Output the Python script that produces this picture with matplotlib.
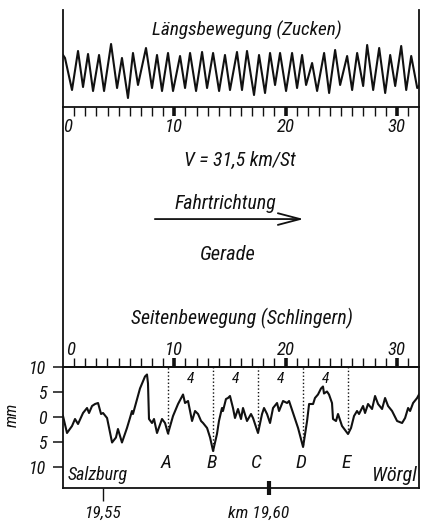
import matplotlib
matplotlib.use("Agg")
import matplotlib.pyplot as plt
from matplotlib.ticker import FixedLocator, NullFormatter
import matplotlib.transforms as mtransforms
from matplotlib import font_manager

# ---------------- data ----------------
# Längsbewegung (Zucken): position along the ruler (0..32) and trace height
long_x = [0.00, 0.18, 0.81, 1.35, 1.80, 2.25, 2.70, 3.24, 3.69, 4.32, 4.86, 5.30,
          5.84, 6.29, 6.74, 7.46, 8.00, 8.45, 8.90, 9.44, 9.89, 10.52, 10.97,
          11.42, 11.96, 12.50, 12.95, 13.49, 14.03, 14.56, 15.01, 15.64, 16.09,
          16.54, 17.17, 17.62, 18.16, 18.61, 19.06, 19.51, 20.05, 20.59, 21.04,
          21.49, 21.85, 22.39, 22.84, 23.47, 23.92, 24.46, 24.91, 25.54, 25.99,
          26.44, 26.98, 27.34, 27.88, 28.42, 28.96, 29.41, 29.86, 30.40, 30.85,
          31.30, 31.84, 32.00]
long_v = [52, 49, 17, 56, 20, 53, 16, 52, 16, 63, 19, 49,
          9, 54, 22, 59, 19, 52, 16, 54, 16, 51, 19,
          54, 16, 55, 19, 54, 16, 52, 17, 55, 17,
          56, 12, 52, 14, 54, 22, 54, 16, 54, 19,
          52, 22, 44, 16, 54, 14, 57, 22, 51, 17,
          54, 21, 62, 17, 59, 14, 52, 21, 61, 17,
          51, 19, 21]

# Seitenbewegung (Schlingern) in mm
lat_x = [0.00, 0.36, 0.81, 1.08, 1.35, 1.80, 2.16, 2.34, 2.61, 2.88, 3.15, 3.42,
         3.60, 3.96, 4.41, 4.76, 4.94, 5.30, 5.75, 6.02, 6.20, 6.29, 6.92, 7.37,
         7.55, 7.64, 7.73, 8.00, 8.18, 8.45, 8.90, 9.17, 9.44, 9.89, 10.34,
         10.79, 10.97, 11.24, 11.60, 11.87, 12.14, 12.41, 12.59, 12.95, 13.22,
         13.49, 13.84, 14.02, 14.29, 14.38, 14.65, 14.83, 15.01, 15.28, 15.46,
         15.73, 16.00, 16.18, 16.54, 16.90, 17.08, 17.53, 17.89, 18.07, 18.34,
         18.61, 18.88, 19.24, 19.42, 19.78, 20.14, 20.32, 20.68, 21.13, 21.58,
         21.94, 22.12, 22.48, 22.65, 22.92, 23.19, 23.37, 23.46, 23.73, 23.91,
         24.18, 24.27, 24.54, 24.72, 25.08, 25.62, 25.89, 26.16, 26.43, 26.61,
         26.97, 27.15, 27.42, 27.78, 28.05, 28.32, 28.68, 28.95, 29.22, 29.58,
         30.03, 30.48, 30.75, 31.02, 31.20, 31.47, 31.83, 32.00]
lat_v = [0.2, -3.2, -1.8, -0.4, -1.4, 0.8, 1.8, 0.8, 2.2, 2.6, 2.8, 0.6,
         0.8, -0.2, -5.1, -4.1, -2.4, -5.1, -2.2, -0.2, 1.2, 0.6, 5.7, 8.1,
         8.5, 6.7, -0.4, -1.2, -0.4, -3.2, -0.4, -1.2, -3.3, 0.2, 2.6,
         4.5, 2.8, 3.2, -0.8, 1.2, 0.6, -0.8, -1.2, -2.2, -4.1,
         -6.8, -3.4, -0.8, 1.8, 1.2, 3.6, 3.8, 4.2, 1.8, -0.2,
         1.6, -0.4, 1.8, -0.8, 0.6, -0.2, -3.2, 0.6, 1.8, 0.6,
         -1.2, 1.8, 2.8, 1.2, 3.2, 2.8, 3.2, 0.8, -2.2, -6.0,
         -0.8, 2.6, 2.6, 3.8, 4.5, 5.7, 6.1, 4.7, 5.1, 4.5,
         2.8, -0.4, -0.8, 0.6, -1.8, -3.4, -2.2, 0.2, 1.2, 0.6,
         2.2, 0.8, 2.6, 1.6, 4.2, 2.6, 1.6, 3.8, 2.2, 1.2,
         -0.8, -1.2, -0.2, 1.8, 1.2, 2.8, 3.8, 4.5]

ruler_major = [10, 20, 30]
ruler_minor = [1, 2, 3, 4, 5, 6, 7, 8, 9, 11, 12, 13, 14, 15, 16, 17, 18, 19,
               21, 22, 23, 24, 25, 26, 27, 28, 29, 31]
ruler_labels = [0, 10, 20, 30]

marker_x = [9.44, 13.49, 17.53, 21.58, 25.62]
marker_depth = [-3.3, -6.8, -2.4, -5.6, -3.2]
marker_letters = ["A", "B", "C", "D", "E"]
spacing_labels = ["4", "4", "4", "4"]

ytick_vals = [10, 5, 0, -5, -10]
ytick_labels = ["10", "5", "0", "5", "10"]

km_pos = [3.6, 18.5]
km_labels = ["19,55", "km 19,60"]

# ---------------- style ----------------
# prefer a narrow face if one is installed
_names = {f.name for f in font_manager.fontManager.ttflist}
_narrow = [n for n in ("Liberation Sans Narrow", "DejaVu Sans Condensed", "Roboto Condensed")
           if n in _names]
FONT = _narrow + ["Roboto", "DejaVu Sans"]
plt.rcParams["font.family"] = FONT
plt.rcParams["font.style"] = "italic"
plt.rcParams["font.stretch"] = "condensed"
INK = "#111111"
LW = 1.3
TXT = 14.3

W, H = 428, 524


def rect(x0, y0, x1, y1):
    return [x0 / W, 1 - y1 / H, (x1 - x0) / W, (y1 - y0) / H]


fig = plt.figure(figsize=(W / 100, H / 100), dpi=100)
fig.patch.set_facecolor("white")

ax_top = fig.add_axes(rect(63, 10, 419, 107))
ax_mid = fig.add_axes(rect(63, 107, 419, 367))
ax_bot = fig.add_axes(rect(63, 367, 419, 488))

for ax in (ax_top, ax_mid, ax_bot):
    ax.set_xlim(0, 32)
    ax.set_facecolor("none")
    for sp in ax.spines.values():
        sp.set_linewidth(LW)
        sp.set_color(INK)

# ---------- upper panel ----------
ax_top.spines["top"].set_visible(False)
ax_top.set_ylim(0, 97)
ax_top.set_yticks([])
ax_top.plot(long_x, long_v, color=INK, lw=1.5, solid_joinstyle="round")
ax_top.xaxis.set_major_locator(FixedLocator(ruler_major))
ax_top.xaxis.set_minor_locator(FixedLocator(ruler_minor))
ax_top.xaxis.set_major_formatter(NullFormatter())
ax_top.xaxis.set_minor_formatter(NullFormatter())
ax_top.tick_params(axis="x", which="major", direction="out", length=6.5, width=2.6, color=INK)
ax_top.tick_params(axis="x", which="minor", direction="out", length=6.5, width=1.0, color=INK)
tr_top = mtransforms.blended_transform_factory(ax_top.transData, ax_top.transAxes)
for v in ruler_labels:
    ax_top.text(v, -0.205, str(v), transform=tr_top, fontsize=13.5,
                ha="left" if v == 0 else "center", va="center", color=INK)
ax_top.text(16.5, 0.79, "Längsbewegung (Zucken)", transform=tr_top,
            fontsize=13.9, ha="center", va="center", color=INK)

# ---------- middle panel ----------
ax_mid.spines["top"].set_visible(False)
ax_mid.spines["bottom"].set_visible(False)
ax_mid.set_xticks([])
ax_mid.set_yticks([])
ax_mid.text(0.497, 0.796, "V = 31,5 km/St", transform=ax_mid.transAxes,
            fontsize=TXT, ha="center", va="center", color=INK)
ax_mid.text(0.455, 0.628, "Fahrtrichtung", transform=ax_mid.transAxes,
            fontsize=TXT, ha="center", va="center", color=INK)
ax_mid.annotate("", xy=(0.676, 0.569), xytext=(0.258, 0.569),
                xycoords=ax_mid.transAxes, textcoords=ax_mid.transAxes,
                arrowprops=dict(arrowstyle="->,head_length=1.6,head_width=0.42",
                                lw=1.3, color=INK, shrinkA=0, shrinkB=0,
                                mutation_scale=10))
ax_mid.text(0.463, 0.431, "Gerade", transform=ax_mid.transAxes,
            fontsize=TXT + 0.5, ha="center", va="center", color=INK)
ax_mid.text(0.503, 0.188, "Seitenbewegung (Schlingern)", transform=ax_mid.transAxes,
            fontsize=TXT, ha="center", va="center", color=INK)

# ---------- lower panel ----------
ax_bot.set_ylim(-14.2, 10)
ax_bot.plot(lat_x, lat_v, color=INK, lw=1.5, solid_joinstyle="round")
ax_bot.set_yticks(ytick_vals)
ax_bot.set_yticklabels(ytick_labels)
ax_bot.tick_params(axis="y", direction="out", length=7, width=1.1, pad=5,
                   labelsize=13, color=INK, labelcolor=INK)

# ruler on top of lower panel
sec = ax_bot.secondary_xaxis("top")
sec.xaxis.set_major_locator(FixedLocator(ruler_major))
sec.xaxis.set_minor_locator(FixedLocator(ruler_minor))
sec.xaxis.set_major_formatter(NullFormatter())
sec.xaxis.set_minor_formatter(NullFormatter())
sec.tick_params(axis="x", which="major", direction="out", length=6.5, width=2.6, color=INK)
sec.tick_params(axis="x", which="minor", direction="out", length=6.5, width=1.0, color=INK)
sec.spines["top"].set_linewidth(LW)
tr_bot = mtransforms.blended_transform_factory(ax_bot.transData, ax_bot.transAxes)
for v in ruler_labels:
    ax_bot.text(v + (0.25 if v == 0 else 0), 1.14, str(v), transform=tr_bot, fontsize=13.5,
                ha="left" if v == 0 else "center", va="center", color=INK)

# marker lines A..E
ax_bot.vlines(marker_x, marker_depth, 10, colors=INK, linestyles=(0, (1, 1.6)), lw=1.0)
for xm, letter in zip(marker_x, marker_letters):
    ax_bot.text(xm - 0.15, -9.1, letter, fontsize=14, ha="center", va="center", color=INK)
for a, b, lab in zip(marker_x[:-1], marker_x[1:], spacing_labels):
    ax_bot.text((a + b) / 2, 7.6, lab, fontsize=11, ha="center", va="center", color=INK)

ax_bot.text(0.45, -11.7, "Salzburg", fontsize=13, ha="left", va="center", color=INK)
ax_bot.text(31.8, -11.7, "Wörgl", fontsize=14.5, ha="right", va="center", color=INK)

# km marks on bottom
ax_bot.xaxis.set_major_locator(FixedLocator([km_pos[1]]))
ax_bot.xaxis.set_minor_locator(FixedLocator([km_pos[0]]))
ax_bot.xaxis.set_major_formatter(NullFormatter())
ax_bot.xaxis.set_minor_formatter(NullFormatter())
ax_bot.tick_params(axis="x", which="major", direction="inout", length=10, width=3.0, color=INK)
ax_bot.tick_params(axis="x", which="minor", direction="out", length=9, width=1.0, color=INK)
ax_bot.annotate(km_labels[0], xy=(km_pos[0], 0), xycoords=tr_bot,
                xytext=(0, -18), textcoords="offset points",
                fontsize=12.5, ha="center", va="center", color=INK)
ax_bot.annotate(km_labels[1], xy=(km_pos[1], 0), xycoords=tr_bot,
                xytext=(-7, -18), textcoords="offset points",
                fontsize=12.5, ha="center", va="center", color=INK)

fig.text(12 / W, 1 - 415 / H, "mm", rotation=90, fontsize=12,
         ha="center", va="center", color=INK)

fig.savefig("out.png", dpi=100, facecolor="white")
